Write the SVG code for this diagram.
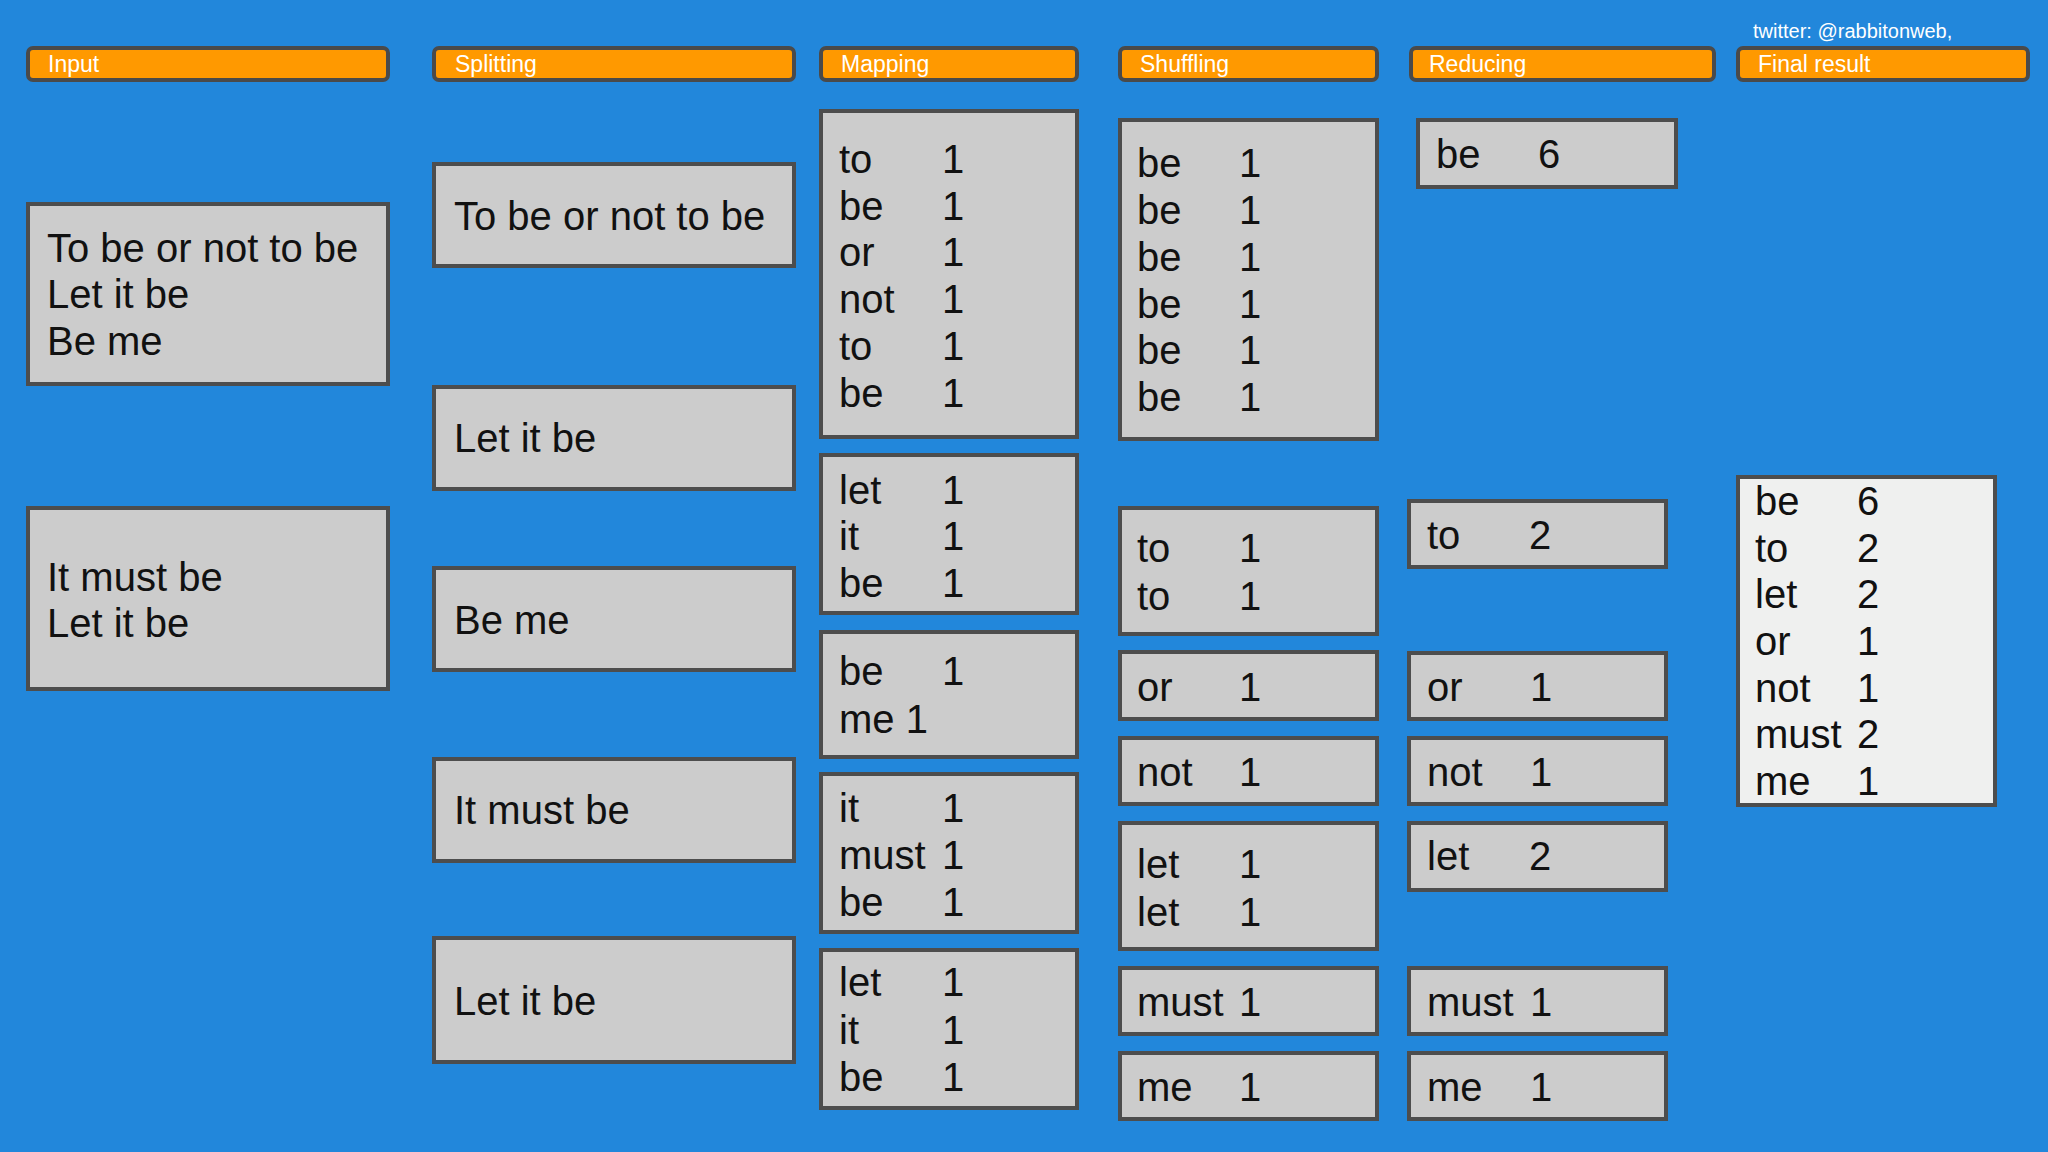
<svg xmlns="http://www.w3.org/2000/svg" width="2048" height="1152" viewBox="0 0 2048 1152">
  <style>
    .hdr{fill:#ff9900;stroke:#4a4a4a;stroke-width:4}
    .hl{font-family:"Liberation Sans",Arial,sans-serif;font-size:23px;fill:#ffffff}
    .box{fill:#cccccc;stroke:#4d4d4d;stroke-width:4}
    .fin{fill:#eff0ef;stroke:#4d4d4d;stroke-width:4}
    text.t{font-family:"Liberation Sans",Arial,sans-serif;font-size:40px;fill:#111111}
    .tw{font-family:"Liberation Sans",Arial,sans-serif;font-size:20px;fill:#ffffff}
  </style>
  <rect x="0" y="0" width="2048" height="1152" fill="#2287db"/>
  <text class="tw" x="1753" y="38">twitter: @rabbitonweb,</text>

  <g id="headers">
    <g id="h-input"><rect class="hdr" x="28" y="48" width="360" height="32" rx="5"/><text class="hl" x="48" y="72">Input</text></g>
    <g id="h-splitting"><rect class="hdr" x="434" y="48" width="360" height="32" rx="5"/><text class="hl" x="455" y="72">Splitting</text></g>
    <g id="h-mapping"><rect class="hdr" x="821" y="48" width="256" height="32" rx="5"/><text class="hl" x="841" y="72">Mapping</text></g>
    <g id="h-shuffling"><rect class="hdr" x="1120" y="48" width="257" height="32" rx="5"/><text class="hl" x="1140" y="72">Shuffling</text></g>
    <g id="h-reducing"><rect class="hdr" x="1411" y="48" width="303" height="32" rx="5"/><text class="hl" x="1429" y="72">Reducing</text></g>
    <g id="h-final"><rect class="hdr" x="1738" y="48" width="290" height="32" rx="5"/><text class="hl" x="1758" y="72">Final result</text></g>
  </g>

  <g id="input">
    <g id="in1"><rect class="box" x="28" y="204" width="360" height="180"/>
      <text class="t" x="47" y="262">To be or not to be</text>
      <text class="t" x="47" y="308">Let it be</text>
      <text class="t" x="47" y="355">Be me</text></g>
    <g id="in2"><rect class="box" x="28" y="508" width="360" height="181"/>
      <text class="t" x="47" y="591">It must be</text>
      <text class="t" x="47" y="637">Let it be</text></g>
  </g>

  <g id="splitting">
    <g id="sp1"><rect class="box" x="434" y="164" width="360" height="102"/><text class="t" x="454" y="230">To be or not to be</text></g>
    <g id="sp2"><rect class="box" x="434" y="387" width="360" height="102"/><text class="t" x="454" y="452">Let it be</text></g>
    <g id="sp3"><rect class="box" x="434" y="568" width="360" height="102"/><text class="t" x="454" y="634">Be me</text></g>
    <g id="sp4"><rect class="box" x="434" y="759" width="360" height="102"/><text class="t" x="454" y="824">It must be</text></g>
    <g id="sp5"><rect class="box" x="434" y="938" width="360" height="124"/><text class="t" x="454" y="1015">Let it be</text></g>
  </g>

  <g id="mapping">
    <g id="mp1"><rect class="box" x="821" y="111" width="256" height="326"/>
      <text class="t" x="839" y="173">to</text><text class="t" x="942" y="173">1</text>
      <text class="t" x="839" y="220">be</text><text class="t" x="942" y="220">1</text>
      <text class="t" x="839" y="266">or</text><text class="t" x="942" y="266">1</text>
      <text class="t" x="839" y="313">not</text><text class="t" x="942" y="313">1</text>
      <text class="t" x="839" y="360">to</text><text class="t" x="942" y="360">1</text>
      <text class="t" x="839" y="407">be</text><text class="t" x="942" y="407">1</text></g>
    <g id="mp2"><rect class="box" x="821" y="455" width="256" height="158"/>
      <text class="t" x="839" y="504">let</text><text class="t" x="942" y="504">1</text>
      <text class="t" x="839" y="550">it</text><text class="t" x="942" y="550">1</text>
      <text class="t" x="839" y="597">be</text><text class="t" x="942" y="597">1</text></g>
    <g id="mp3"><rect class="box" x="821" y="632" width="256" height="125"/>
      <text class="t" x="839" y="685">be</text><text class="t" x="942" y="685">1</text>
      <text class="t" x="839" y="733">me 1</text></g>
    <g id="mp4"><rect class="box" x="821" y="774" width="256" height="158"/>
      <text class="t" x="839" y="822">it</text><text class="t" x="942" y="822">1</text>
      <text class="t" x="839" y="869">must</text><text class="t" x="942" y="869">1</text>
      <text class="t" x="839" y="916">be</text><text class="t" x="942" y="916">1</text></g>
    <g id="mp5"><rect class="box" x="821" y="950" width="256" height="158"/>
      <text class="t" x="839" y="996">let</text><text class="t" x="942" y="996">1</text>
      <text class="t" x="839" y="1044">it</text><text class="t" x="942" y="1044">1</text>
      <text class="t" x="839" y="1091">be</text><text class="t" x="942" y="1091">1</text></g>
  </g>

  <g id="shuffling">
    <g id="sh1"><rect class="box" x="1120" y="120" width="257" height="319"/>
      <text class="t" x="1137" y="177">be</text><text class="t" x="1239" y="177">1</text>
      <text class="t" x="1137" y="224">be</text><text class="t" x="1239" y="224">1</text>
      <text class="t" x="1137" y="271">be</text><text class="t" x="1239" y="271">1</text>
      <text class="t" x="1137" y="318">be</text><text class="t" x="1239" y="318">1</text>
      <text class="t" x="1137" y="364">be</text><text class="t" x="1239" y="364">1</text>
      <text class="t" x="1137" y="411">be</text><text class="t" x="1239" y="411">1</text></g>
    <g id="sh2"><rect class="box" x="1120" y="508" width="257" height="126"/>
      <text class="t" x="1137" y="562">to</text><text class="t" x="1239" y="562">1</text>
      <text class="t" x="1137" y="610">to</text><text class="t" x="1239" y="610">1</text></g>
    <g id="sh3"><rect class="box" x="1120" y="652" width="257" height="67"/>
      <text class="t" x="1137" y="701">or</text><text class="t" x="1239" y="701">1</text></g>
    <g id="sh4"><rect class="box" x="1120" y="738" width="257" height="66"/>
      <text class="t" x="1137" y="786">not</text><text class="t" x="1239" y="786">1</text></g>
    <g id="sh5"><rect class="box" x="1120" y="823" width="257" height="126"/>
      <text class="t" x="1137" y="878">let</text><text class="t" x="1239" y="878">1</text>
      <text class="t" x="1137" y="926">let</text><text class="t" x="1239" y="926">1</text></g>
    <g id="sh6"><rect class="box" x="1120" y="968" width="257" height="66"/>
      <text class="t" x="1137" y="1016">must</text><text class="t" x="1239" y="1016">1</text></g>
    <g id="sh7"><rect class="box" x="1120" y="1053" width="257" height="66"/>
      <text class="t" x="1137" y="1101">me</text><text class="t" x="1239" y="1101">1</text></g>
  </g>

  <g id="reducing">
    <g id="rd1"><rect class="box" x="1418" y="120" width="258" height="67"/>
      <text class="t" x="1436" y="168">be</text><text class="t" x="1538" y="168">6</text></g>
    <g id="rd2"><rect class="box" x="1409" y="501" width="257" height="66"/>
      <text class="t" x="1427" y="549">to</text><text class="t" x="1529" y="549">2</text></g>
    <g id="rd3"><rect class="box" x="1409" y="653" width="257" height="66"/>
      <text class="t" x="1427" y="701">or</text><text class="t" x="1530" y="701">1</text></g>
    <g id="rd4"><rect class="box" x="1409" y="738" width="257" height="66"/>
      <text class="t" x="1427" y="786">not</text><text class="t" x="1530" y="786">1</text></g>
    <g id="rd5"><rect class="box" x="1409" y="823" width="257" height="67"/>
      <text class="t" x="1427" y="870">let</text><text class="t" x="1529" y="870">2</text></g>
    <g id="rd6"><rect class="box" x="1409" y="968" width="257" height="66"/>
      <text class="t" x="1427" y="1016">must</text><text class="t" x="1530" y="1016">1</text></g>
    <g id="rd7"><rect class="box" x="1409" y="1053" width="257" height="66"/>
      <text class="t" x="1427" y="1101">me</text><text class="t" x="1530" y="1101">1</text></g>
  </g>

  <g id="final">
    <rect class="fin" x="1738" y="477" width="257" height="328"/>
    <text class="t" x="1755" y="515">be</text><text class="t" x="1857" y="515">6</text>
    <text class="t" x="1755" y="562">to</text><text class="t" x="1857" y="562">2</text>
    <text class="t" x="1755" y="608">let</text><text class="t" x="1857" y="608">2</text>
    <text class="t" x="1755" y="655">or</text><text class="t" x="1857" y="655">1</text>
    <text class="t" x="1755" y="702">not</text><text class="t" x="1857" y="702">1</text>
    <text class="t" x="1755" y="748">must</text><text class="t" x="1857" y="748">2</text>
    <text class="t" x="1755" y="795">me</text><text class="t" x="1857" y="795">1</text>
  </g>

  <g id="connectors"></g>
</svg>
